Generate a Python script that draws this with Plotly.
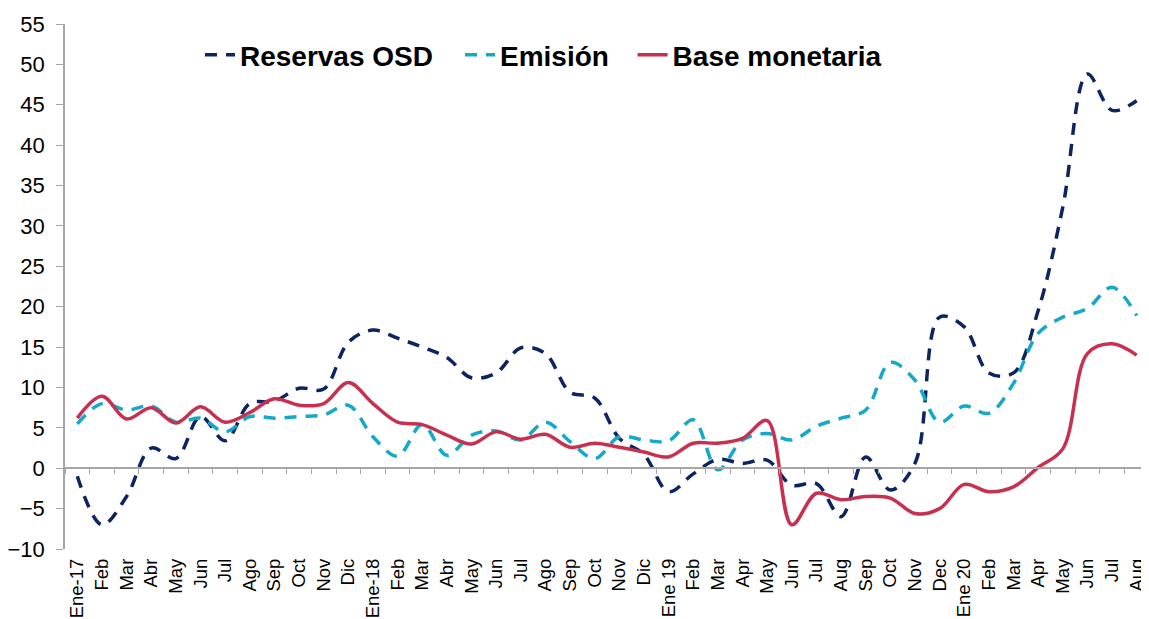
import plotly.graph_objects as go

categories = [
    "Ene-17", "Feb", "Mar", "Abr", "May", "Jun", "Jul", "Ago", "Sep", "Oct", "Nov", "Dic",
    "Ene-18", "Feb ", "Mar ", "Abr ", "May ", "Jun ", "Jul ", "Ago ", "Sep ", "Oct ", "Nov ", "Dic ",
    "Ene 19", "Feb  ", "Mar  ", "Apr", "May  ", "Jun  ", "Jul  ", "Aug", "Sep  ", "Oct  ", "Nov  ", "Dec",
    "Ene 20", "Feb   ", "Mar   ", "Apr ", "May   ", "Jun   ", "Jul   ", "Aug ",
]
tick_labels = [c.strip() for c in categories]

reservas_osd = [
    -1.0, -7.0, -3.5, 2.5, 1.2, 6.4, 3.4, 8.0, 8.3, 9.9, 9.8, 15.6,
    17.1, 16.1, 15.0, 13.7, 11.2, 11.8, 14.9, 14.2, 9.4, 8.7, 3.7, 1.7,
    -2.9, -0.7, 1.1, 0.6, 1.0, -2.1, -1.9, -6.0, 1.4, -2.7, 0.6, 18.7,
    17.5, 11.8, 11.8, 19.5, 32.3, 48.8, 44.3, 45.5,
]
emision = [
    5.5, 8.0, 7.2, 7.7, 5.7, 6.2, 4.5, 6.4, 6.2, 6.4, 6.6, 7.8,
    3.9, 1.5, 5.4, 1.6, 4.1, 4.6, 3.5, 5.7, 3.3, 1.2, 3.9, 3.5,
    3.4, 6.0, -0.2, 3.5, 4.3, 3.5, 5.2, 6.2, 7.2, 13.1, 10.9, 5.7,
    7.7, 6.8, 10.5, 16.7, 18.7, 19.8, 22.4, 18.9,
]
base_monetaria = [
    6.2, 8.9, 6.1, 7.5, 5.6, 7.6, 5.7, 6.9, 8.6, 7.8, 8.0, 10.6,
    8.0, 5.7, 5.4, 4.1, 3.0, 4.5, 3.6, 4.2, 2.6, 3.1, 2.6, 2.0,
    1.4, 3.1, 3.1, 3.7, 5.9, -7.0, -3.1, -3.9, -3.5, -3.7, -5.6, -5.0,
    -2.0, -2.9, -2.3, 0.1, 2.4, 14.2, 15.4, 14.0,
]
y_ticks = list(range(-10, 60, 5))

NAVY = "#0c2461"
CYAN = "#14a9c9"
CRIMSON = "#c8304f"
GRAY = "#a6a6a6"
FONT = "Liberation Sans, Arial, sans-serif"

fig = go.Figure()
fig.add_trace(go.Scatter(
    x=categories, y=reservas_osd, name="Reservas OSD", mode="lines",
    line=dict(color=NAVY, width=3.5, dash="12px,9px", shape="spline", smoothing=1),
    legend="legend",
))
fig.add_trace(go.Scatter(
    x=categories, y=emision, name="Emisión", mode="lines",
    line=dict(color=CYAN, width=3.5, dash="12px,9px", shape="spline", smoothing=1),
    legend="legend2",
))
fig.add_trace(go.Scatter(
    x=categories, y=base_monetaria, name="Base monetaria", mode="lines",
    line=dict(color=CRIMSON, width=3.5, shape="spline", smoothing=1),
    legend="legend3",
))
# invisible trace to carry the zero-line category axis (ticks at boundaries)
fig.add_trace(go.Scatter(
    x=categories, y=[None] * len(categories), xaxis="x2", mode="lines",
    showlegend=False, hoverinfo="skip",
))

legend_font = dict(family=FONT, size=28, color="#000000", weight="bold")
common_leg = dict(orientation="h", yanchor="middle", y=0.941, xanchor="left",
                  font=legend_font, bgcolor="rgba(0,0,0,0)", borderwidth=0)

fig.update_layout(
    width=1141, height=611,
    margin=dict(l=57, r=0, t=16, b=70),
    paper_bgcolor="white", plot_bgcolor="white",
    font=dict(family=FONT, color="#000000"),
    legend=dict(x=0.1245, **common_leg),
    legend2=dict(x=0.3644, **common_leg),
    legend3=dict(x=0.5236, **common_leg),
    xaxis=dict(
        type="category", range=[-0.5, len(categories) - 0.5],
        tickmode="array", tickvals=categories, ticktext=tick_labels,
        tickangle=-90, tickfont=dict(family=FONT, size=18.5, color="#000000"),
        ticklabelstandoff=5,
        showgrid=False, showline=False, ticks="", zeroline=False, automargin=False,
    ),
    xaxis2=dict(
        type="category", overlaying="x", anchor="free", position=10 / 65,
        side="bottom", range=[-0.5, len(categories) - 0.5],
        showline=True, linecolor=GRAY, linewidth=1.5,
        ticks="outside", tickson="boundaries", ticklen=5, tickcolor=GRAY, tickwidth=1.2,
        showticklabels=False, showgrid=False, zeroline=False,
    ),
    yaxis=dict(
        range=[-10, 55], tickmode="array", tickvals=y_ticks,
        tickfont=dict(family=FONT, size=22, color="#000000"),
        showgrid=False, zeroline=False,
        showline=True, linecolor=GRAY, linewidth=1.5,
        ticks="outside", ticklen=7, tickcolor=GRAY, tickwidth=1.2,
        ticklabelstandoff=7, automargin=False,
    ),
)

fig.write_html("out.html")
